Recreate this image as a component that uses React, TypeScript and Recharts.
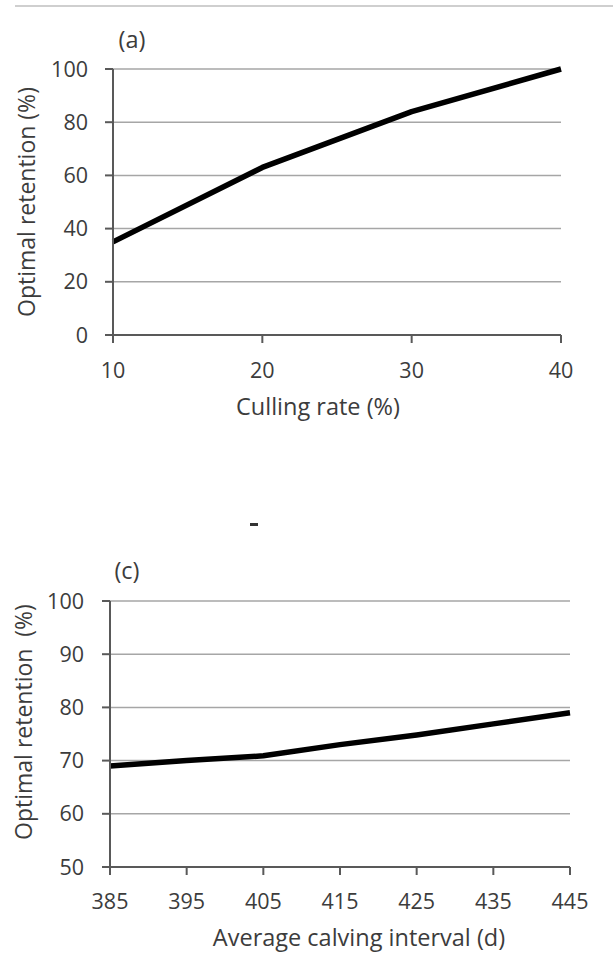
import { LineChart, Line, XAxis, YAxis, CartesianGrid } from 'recharts';

// panel (a)
const cullingRate = [10, 20, 30, 40];
const retentionA = [35, 63, 84, 100];
const ticksA = [0, 20, 40, 60, 80, 100];

// panel (c)
const calvingInterval = [385, 395, 405, 415, 425, 435, 445];
const retentionC = [69, 70, 70.9, 73, 74.8, 76.9, 79];
const ticksCx = [385, 395, 405, 415, 425, 435, 445];
const ticksCy = [50, 60, 70, 80, 90, 100];

const dataA = cullingRate.map((x, i) => ({ x, y: retentionA[i] }));
const dataC = calvingInterval.map((x, i) => ({ x, y: retentionC[i] }));

const font = '"Open Sans", sans-serif';
const textColor = '#3c3c3c';
const axisColor = '#595959';
const tickStyle = { fontSize: 21.5, fill: textColor, fontFamily: font };

// centered text, (cx, cy) is the middle of the line box
function Title({ text, cx, cy }: { text: string; cx: number; cy: number }) {
  return (
    <div style={{ position: 'absolute', left: cx - 200, top: cy - 14, width: 400, textAlign: 'center', fontSize: 23.5, color: textColor, fontFamily: font, lineHeight: '28px', whiteSpace: 'pre' }}>
      {text}
    </div>
  );
}

function YTitle({ text, cx, cy }: { text: string; cx: number; cy: number }) {
  return (
    <div style={{ position: 'absolute', left: cx - 150, top: cy - 14, width: 300, textAlign: 'center', fontSize: 23, color: textColor, fontFamily: font, lineHeight: '28px', transform: 'rotate(-90deg)', whiteSpace: 'pre' }}>
      {text}
    </div>
  );
}

export default function App() {
  return (
    <div style={{ position: 'absolute', left: 0, top: 0, width: 613, height: 955, background: '#fff', overflow: 'hidden' }}>
      <div style={{ position: 'absolute', left: 15, top: 5, width: 598, height: 2, background: '#cfcfcf' }} />

      <div style={{ position: 'absolute', left: 0, top: 0 }}>
        <LineChart width={613} height={445} data={dataA} margin={{ top: 69, right: 52, left: 0, bottom: 70 }}>
          <CartesianGrid vertical={false} stroke="#a6a6a6" strokeWidth={1.5} />
          <XAxis dataKey="x" type="number" domain={[10, 40]} ticks={cullingRate} height={40}
            stroke={axisColor} strokeWidth={2} tickSize={8} tickMargin={20} tick={tickStyle} />
          <YAxis type="number" domain={[0, 100]} ticks={ticksA} width={113}
            stroke={axisColor} strokeWidth={2} tickSize={8} tickMargin={17} tick={tickStyle} />
          <Line dataKey="y" type="linear" stroke="#000" strokeWidth={5.5} dot={false} strokeLinejoin="round" isAnimationActive={false} />
        </LineChart>
      </div>
      <Title text="(a)" cx={132} cy={39} />
      <Title text="Culling rate (%)" cx={318} cy={406} />
      <YTitle text="Optimal retention (%)" cx={26} cy={202} />

      <div style={{ position: 'absolute', left: 250, top: 523, width: 8, height: 3, background: '#333' }} />

      <div style={{ position: 'absolute', left: 0, top: 480 }}>
        <LineChart width={613} height={475} data={dataC} margin={{ top: 121, right: 43, left: 0, bottom: 48 }}>
          <CartesianGrid vertical={false} stroke="#a6a6a6" strokeWidth={1.5} />
          <XAxis dataKey="x" type="number" domain={[385, 445]} ticks={ticksCx} height={40}
            stroke={axisColor} strokeWidth={2} tickSize={8} tickMargin={19} tick={tickStyle} />
          <YAxis type="number" domain={[50, 100]} ticks={ticksCy} width={110}
            stroke={axisColor} strokeWidth={2} tickSize={8} tickMargin={18} tick={tickStyle} />
          <Line dataKey="y" type="linear" stroke="#000" strokeWidth={5.5} dot={false} strokeLinejoin="round" isAnimationActive={false} />
        </LineChart>
      </div>
      <Title text="(c)" cx={127} cy={570} />
      <Title text="Average calving interval (d)" cx={359} cy={937} />
      <YTitle text="Optimal retention  (%)" cx={23} cy={722} />
    </div>
  );
}
